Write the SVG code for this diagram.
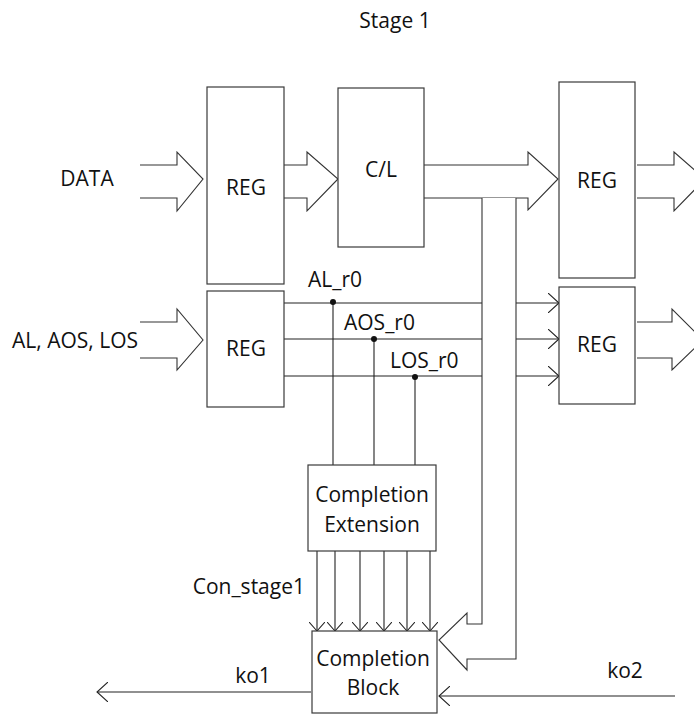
<svg xmlns="http://www.w3.org/2000/svg" width="694" height="715" viewBox="0 0 694 715">
<style>
.box{fill:#fff;stroke:#3a3a3a;stroke-width:1.2}
.ln{fill:none;stroke:#222;stroke-width:1.1}
.bus{fill:#fff;stroke:#333;stroke-width:1.1}
.t{font-family:"Open Sans","Liberation Sans",sans-serif;font-size:21px;fill:#111}
.m{text-anchor:middle}
.dot{fill:#111}
</style>
<defs>
<marker id="ah" viewBox="0 0 12 20" refX="11" refY="10" markerWidth="12" markerHeight="20" markerUnits="userSpaceOnUse" orient="auto">
<path d="M0,0 L11,10 L0,20" fill="none" stroke="#222" stroke-width="1.1"/>
</marker>
<marker id="ahs" viewBox="0 0 10 16" refX="9" refY="8" markerWidth="10" markerHeight="16" markerUnits="userSpaceOnUse" orient="auto">
<path d="M0,0 L9,8 L0,16" fill="none" stroke="#222" stroke-width="1.1"/>
</marker>
</defs>
<text class="t m" x="395" y="28">Stage 1</text>
<g id="connectors">
<path class="bus" d="M140,165 H177 V152 L203,179 L177,211 V198 H140"/>
<path class="bus" d="M284,165 H307 V152 L338,179 L307,211 V198 H284"/>
<path class="bus" d="M637,165 H674 V152 L705,179 L674,211 V198 H637"/>
<path class="bus" d="M140,322 H177 V309 L203,340 L177,370 V358 H140"/>
<path class="bus" d="M637,322 H672 V309 L703,340 L672,370 V358 H637"/>
<path class="ln" d="M284,303 H559" marker-end="url(#ah)"/>
<path class="ln" d="M284,339 H559" marker-end="url(#ah)"/>
<path class="ln" d="M284,376 H559" marker-end="url(#ah)"/>
<path class="bus" d="M424,165 H528 V152 L558,179 L528,210 V198 H424"/>
<path class="bus" d="M482,198 V624 H467 V613 L439,640 L467,670 V659 H516 V198"/>
<path class="ln" d="M333,302 V465"/>
<path class="ln" d="M374,339 V465"/>
<path class="ln" d="M415,377 V465"/>
<circle class="dot" cx="333" cy="302" r="3"/>
<circle class="dot" cx="374" cy="339" r="3"/>
<circle class="dot" cx="415" cy="377" r="3"/>
<path class="ln" d="M317,551 V631" marker-end="url(#ahs)"/>
<path class="ln" d="M335,551 V631" marker-end="url(#ahs)"/>
<path class="ln" d="M360,551 V631" marker-end="url(#ahs)"/>
<path class="ln" d="M384,551 V631" marker-end="url(#ahs)"/>
<path class="ln" d="M407,551 V631" marker-end="url(#ahs)"/>
<path class="ln" d="M430,551 V631" marker-end="url(#ahs)"/>
<path class="ln" d="M311,692 H97" marker-end="url(#ah)"/>
<path class="ln" d="M675,696 H439" marker-end="url(#ah)"/>
</g>
<text class="t m" x="87" y="186">DATA</text>
<text class="t m" x="75" y="348">AL, AOS, LOS</text>
<text class="t" x="308" y="287">AL_r0</text>
<text class="t" x="344" y="330">AOS_r0</text>
<text class="t" x="390" y="368">LOS_r0</text>
<text class="t" x="305" y="594" text-anchor="end">Con_stage1</text>
<text class="t m" x="253" y="683">ko1</text>
<text class="t m" x="625" y="678">ko2</text>
<g id="reg1"><rect class="box" x="207" y="87" width="77" height="197"/><text class="t m" x="246" y="195">REG</text></g>
<g id="cl"><rect class="box" x="338" y="88" width="86" height="159"/><text class="t m" x="381" y="177">C/L</text></g>
<g id="reg2"><rect class="box" x="559" y="82" width="76" height="196"/><text class="t m" x="597" y="188">REG</text></g>
<g id="reg3"><rect class="box" x="207" y="291" width="77" height="116"/><text class="t m" x="246" y="356">REG</text></g>
<g id="reg4"><rect class="box" x="559" y="287" width="76" height="117"/><text class="t m" x="597" y="352">REG</text></g>
<g id="completion-extension"><rect class="box" x="308" y="465" width="128" height="86"/><text class="t m" x="372" y="502">Completion</text><text class="t m" x="372" y="532">Extension</text></g>
<g id="completion-block"><rect class="box" x="312" y="631" width="125" height="82"/><text class="t m" x="373" y="666">Completion</text><text class="t m" x="373" y="695">Block</text></g>
</svg>
